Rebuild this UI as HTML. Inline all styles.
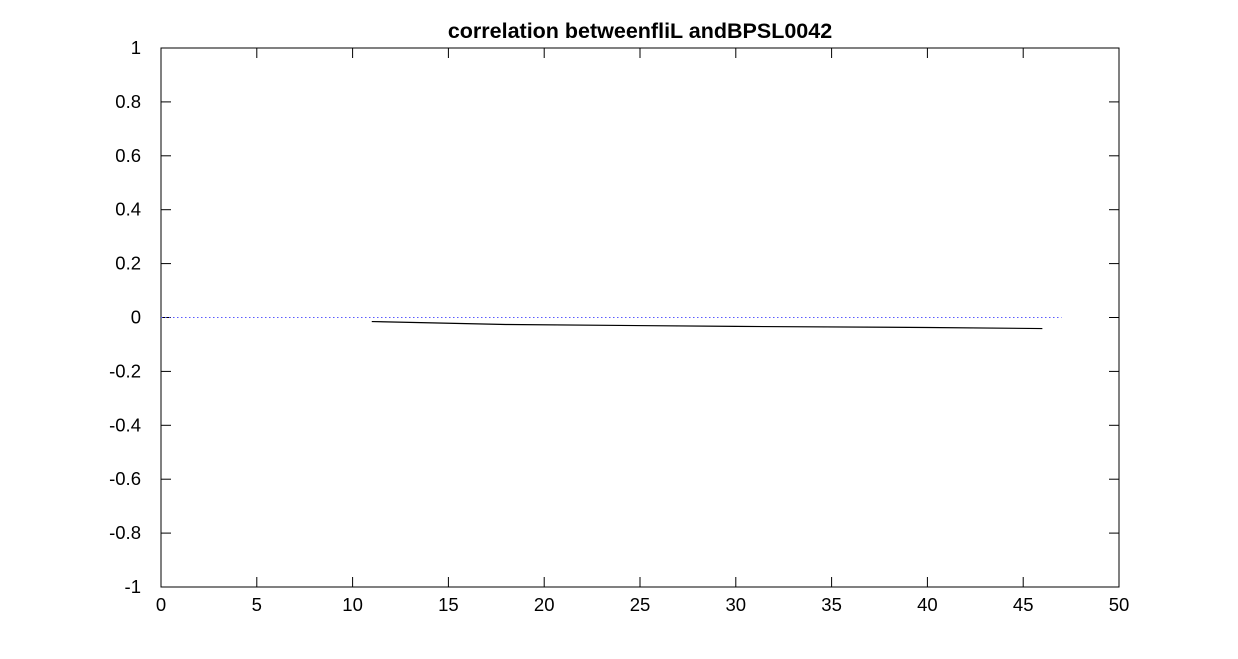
<!DOCTYPE html>
<html><head><meta charset="utf-8"><style>
body{margin:0;background:#fff;}
svg{display:block;font-family:"Liberation Sans",Arial,sans-serif;}
</style></head><body>
<svg id="chart" width="1238" height="659" viewBox="0 0 1238 659">
<rect x="0" y="0" width="1238" height="659" fill="#fff"/>
<text x="640" y="38" text-anchor="middle" font-size="21.5" font-weight="bold">correlation betweenfliL andBPSL0042</text>
<rect x="161" y="48" width="958" height="539" fill="none" stroke="#000" stroke-width="1"/>
<g id="ticks"></g>
<path id="zero-line" fill="none" stroke="#5a5aff" stroke-width="1" stroke-dasharray="1.5,2.5"/>
<path id="series" fill="none" stroke="#000" stroke-width="1.2"/>
</svg>
<script>
const xTicks=[0,5,10,15,20,25,30,35,40,45,50];
const yTicks=[-1,-0.8,-0.6,-0.4,-0.2,0,0.2,0.4,0.6,0.8,1];
const lagX=[11,18,30,40,46];
const corrY=[-0.015,-0.026,-0.033,-0.037,-0.041];
const refX=[0,47];
const refY=[0,0];
const X=v=>161+v*(958/50);
const Y=v=>317.5-v*(539/2);
const ns="http://www.w3.org/2000/svg";
const g=document.getElementById('ticks');
function mk(t,a){const e=document.createElementNS(ns,t);for(const k in a)e.setAttribute(k,a[k]);g.appendChild(e);return e;}
xTicks.forEach(v=>{
 const l1=mk('line',{x1:X(v),x2:X(v),y1:587,y2:577,stroke:'#000'});
 
 
 const l2=mk('line',{x1:X(v),x2:X(v),y1:48,y2:58,stroke:'#000'});
 
 
 const t=mk('text',{x:X(v),y:611,'text-anchor':'middle','font-size':18.5});
 t.textContent=v;
 
 
});
yTicks.forEach(v=>{
 const l1=mk('line',{x1:161,x2:171,y1:Y(v),y2:Y(v),stroke:'#000'});
 
 
 const l2=mk('line',{x1:1109,x2:1119,y1:Y(v),y2:Y(v),stroke:'#000'});
 
 
 const t=mk('text',{x:141,y:Y(v)+6,'text-anchor':'end','font-size':18.5});
 t.textContent=String(v);
 
 
});
document.getElementById('series').setAttribute('d',lagX.map((x,i)=>(i?'L':'M')+X(x)+','+Y(corrY[i])).join(' '));
document.getElementById('zero-line').setAttribute('d',refX.map((x,i)=>(i?'L':'M')+X(x)+','+Y(refY[i])).join(' '));
</script>
</body></html>
